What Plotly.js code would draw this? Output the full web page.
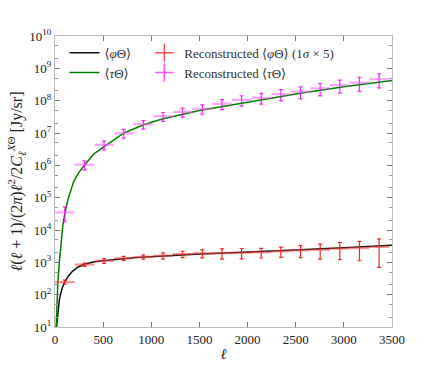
<!DOCTYPE html>
<html>
<head>
<meta charset="utf-8">
<script src="https://cdn.plot.ly/plotly-3.0.1.min.js"></script>
<style>
  html, body { margin: 0; padding: 0; background: #fff; }
  #plot { width: 436px; height: 365px; }
</style>
</head>
<body>
<div id="plot"></div>
<script>
// theory curves
const ellPhiCurve = [16, 25, 35, 45, 57, 75, 102, 140, 181, 240, 303, 400, 493, 600, 717, 850, 994, 1218, 1500, 1716, 2000, 2546, 3000, 3500];
const phiCurve = [10, 22, 42, 68, 100, 160, 250, 380, 525, 720, 870, 1020, 1120, 1220, 1320, 1420, 1500, 1650, 1800, 1900, 2050, 2450, 2850, 3400];

const ellTauCurve = [12, 15, 20, 30, 45, 60, 80, 102, 140, 195, 250, 306, 400, 510, 717, 918, 1115, 1500, 1716, 2000, 2546, 3000, 3500];
const tauCurve = [10, 25, 70, 250, 1000, 3500, 13000, 33000, 100000, 320000, 620000, 1000000, 2200000, 3800000, 10000000, 18000000, 27000000, 50000000, 65000000, 90000000, 170000000, 270000000, 420000000];

// reconstructed band powers
const ellBins = [102, 306, 510, 714, 918, 1122, 1326, 1530, 1734, 1938, 2142, 2346, 2550, 2754, 2958, 3162, 3366];
const binHalfWidth = [102, 102, 102, 102, 102, 102, 102, 102, 102, 102, 102, 102, 102, 102, 102, 102, 102];

const phiRec = [245, 850, 1120, 1330, 1470, 1600, 1800, 1900, 1940, 1980, 2040, 2200, 2350, 2450, 2650, 2770, 3000];
const phiRecErr = [35, 100, 190, 190, 220, 350, 400, 530, 680, 700, 680, 770, 950, 1200, 1450, 1650, 2300];

const tauRec = [35000, 1050000, 4300000, 9800000, 18700000, 33000000, 45000000, 56000000, 80000000, 105000000, 123000000, 158000000, 190000000, 240000000, 300000000, 360000000, 460000000];
const tauRecErr = [17000, 330000, 1300000, 2900000, 5600000, 10000000, 14000000, 18000000, 27000000, 37000000, 45000000, 60000000, 76000000, 100000000, 130000000, 165000000, 210000000];

// y tick labels
const yTickVals = [1e1, 1e2, 1e3, 1e4, 1e5, 1e6, 1e7, 1e8, 1e9, 1e10];
const yTickText = ['10<sup>1</sup>', '10<sup>2</sup>', '10<sup>3</sup>', '10<sup>4</sup>', '10<sup>5</sup>', '10<sup>6</sup>', '10<sup>7</sup>', '10<sup>8</sup>', '10<sup>9</sup>', '10<sup>10</sup>'];

const serif = '"Liberation Serif", "DejaVu Serif", serif';

const phiLine = {
    x: ellPhiCurve, y: phiCurve,
    mode: 'lines', type: 'scatter',
    name: '⟨<i>φ</i>Θ⟩', legend: 'legend',
    line: { color: '#111', width: 1.5 }
};

const tauLine = {
    x: ellTauCurve, y: tauCurve,
    mode: 'lines', type: 'scatter',
    name: '⟨<i>τ</i>Θ⟩', legend: 'legend',
    line: { color: 'rgb(0,128,0)', width: 1.5 }
};

const phiPoints = {
    x: ellBins, y: phiRec,
    mode: 'markers', type: 'scatter',
    showlegend: false,
    marker: { size: 0, color: 'rgba(0,0,0,0)' },
    error_x: { type: 'data', array: binHalfWidth, color: 'rgba(255,60,60,0.55)', thickness: 2.2, width: 0 },
    error_y: { type: 'data', array: phiRecErr, color: 'rgba(240,0,0,0.85)', thickness: 1.2, width: 2 }
};

const tauPoints = {
    x: ellBins, y: tauRec,
    mode: 'markers', type: 'scatter',
    showlegend: false,
    marker: { size: 0, color: 'rgba(0,0,0,0)' },
    error_x: { type: 'data', array: binHalfWidth, color: 'rgba(255,90,255,0.55)', thickness: 2.2, width: 0 },
    error_y: { type: 'data', array: tauRecErr, color: 'rgba(240,0,240,0.85)', thickness: 1.2, width: 2 }
};

// legend entries for the error-bar series (no marks of their own)
const phiKey = {
    x: [null], y: [null],
    mode: 'markers', type: 'scatter',
    name: 'Reconstructed ⟨<i>φ</i>Θ⟩ (1<i>σ</i> × 5)', legend: 'legend2',
    marker: { symbol: 'cross-thin-open', size: 13, color: 'rgba(255,40,40,0.8)', line: { color: 'rgba(255,40,40,0.8)', width: 1.5 } }
};

const tauKey = {
    x: [null], y: [null],
    mode: 'markers', type: 'scatter',
    name: 'Reconstructed ⟨<i>τ</i>Θ⟩', legend: 'legend2',
    marker: { symbol: 'cross-thin-open', size: 13, color: 'rgba(255,40,255,0.8)', line: { color: 'rgba(255,40,255,0.8)', width: 1.5 } }
};

const legendFont = { family: serif, size: 13, color: '#333' };

const layout = {
    width: 436, height: 365,
    margin: { l: 54.5, r: 44, t: 36, b: 37.5 },
    paper_bgcolor: '#fff', plot_bgcolor: '#fff',
    font: { family: serif, size: 13, color: '#222' },
    showlegend: true,
    legend: {
        x: 0.028, y: 0.994, xanchor: 'left', yanchor: 'top',
        bgcolor: 'rgba(0,0,0,0)', font: legendFont, tracegroupgap: 0
    },
    legend2: {
        x: 0.265, y: 0.994, xanchor: 'left', yanchor: 'top',
        bgcolor: 'rgba(0,0,0,0)', font: legendFont, tracegroupgap: 0
    },
    xaxis: {
        range: [0, 3500], dtick: 500, tick0: 0,
        ticks: 'inside', ticklen: 5, tickcolor: '#777',
        showline: true, linecolor: '#bbb', mirror: 'ticks',
        showgrid: false, zeroline: false,
        tickfont: { family: serif, size: 13, color: '#222' },
        title: { text: '<i>ℓ</i>', font: { family: serif, size: 15 }, standoff: 2 }
    },
    yaxis: {
        type: 'log', range: [1, 10],
        tickvals: yTickVals, ticktext: yTickText,
        ticks: 'inside', ticklen: 5, tickcolor: '#777',
        minor: { ticks: 'inside', ticklen: 3, tickcolor: '#999', showgrid: false },
        showline: true, linecolor: '#bbb', mirror: 'ticks',
        showgrid: false, zeroline: false,
        tickfont: { family: serif, size: 13, color: '#222' },
        title: { text: '<i>ℓ</i>(<i>ℓ</i> + 1)/(2<i>π</i>)<i>ℓ</i><sup>2</sup>/2<i>C</i><sub><i>ℓ</i></sub><sup><i>X</i>Θ</sup> [Jy/sr]', font: { family: serif, size: 16 }, standoff: 2 }
    }
};

Plotly.newPlot('plot', [phiLine, tauLine, phiPoints, tauPoints, phiKey, tauKey], layout, { staticPlot: true, displayModeBar: false });
</script>
</body>
</html>
